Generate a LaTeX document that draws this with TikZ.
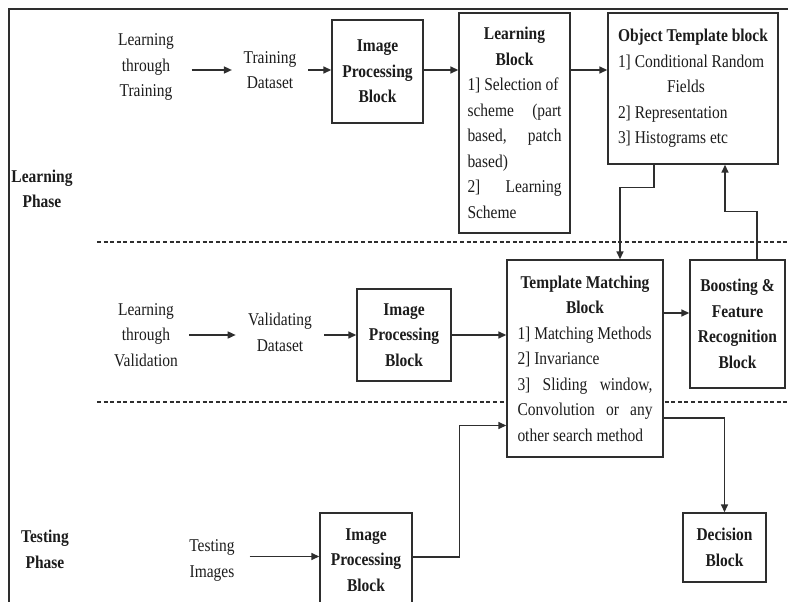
\documentclass[tikz,border=0pt]{standalone}
\usepackage{fontspec}
\setmainfont{Liberation Serif}[FakeStretch=0.86]
\usetikzlibrary{arrows.meta}
\definecolor{ink}{HTML}{1C1C1C}
\definecolor{edge}{HTML}{2E2E2E}
% one line of a block's text, set in a box of the full block width
\newcommand\tline[2][l]{\makebox[\linewidth][#1]{#2}\\}
\newcommand\blkpar{\spaceskip=0pt\xspaceskip=0pt\baselineskip=25.5pt\parindent=0pt\relax}
\begin{document}
\begin{tikzpicture}[x=1pt,y=-1pt,
  every node/.style={inner sep=0pt, font=\fontsize{18}{25.5}\selectfont, text=ink},
  lbl/.style={align=center},
  phase/.style={align=center, font=\fontsize{18}{25.5}\selectfont\bfseries},
  blk/.style={draw=edge, line width=1.4pt, fill=white, align=center,
    font=\fontsize{18}{25.5}\selectfont\bfseries},
  listblk/.style={draw=edge, line width=1.4pt, fill=white},
  arr/.style={draw=edge, line width=1.5pt, -{Triangle[length=8pt,width=7pt]}},
  sep/.style={draw=edge, line width=1.1pt, dash pattern=on 4pt off 2.6pt},
]
\useasboundingbox (0,0) rectangle (788,602);

% outer frame (left and top edges)
\draw[edge, line width=1.5pt] (9,602) -- (9,9) -- (788,9);

% phase separators
\draw[sep] (97,242) -- (788,242);
\draw[sep] (97,402) -- (788,402);

% phase titles
\node[phase] (lp) at (42,189) {Learning\\Phase};
\node[phase] (tp) at (45,549.5) {Testing\\Phase};

% training row
\node[lbl] (lt) at (146,67) {Learning\\through\\Training};
\node[lbl] (td) at (270,70) {Training\\Dataset};
\node[blk, minimum width=91pt, minimum height=103pt] (ip1) at (377.5,71.5) {Image\\Processing\\Block};
\node[listblk, minimum width=111pt, minimum height=220pt] (lb) at (514.5,123)
  {\parbox{94pt}{\blkpar
   \tline[c]{\textbf{Learning}}
   \tline[c]{\textbf{Block}}
   \tline{1] Selection of}
   \tline[s]{scheme (part}
   \tline[s]{based, patch}
   \tline{based)}
   \tline[s]{2] Learning}
   \makebox[\linewidth][l]{Scheme}}};
\node[listblk, minimum width=170pt, minimum height=151pt] (ot) at (693,88.5)
  {\parbox{150pt}{\blkpar
   \tline{\textbf{Object Template block}}
   \tline{1] Conditional Random}
   \tline{\hspace*{49pt}Fields}
   \tline{2] Representation}
   \makebox[\linewidth][l]{3] Histograms etc}}};

% validation row
\node[lbl] (lv) at (146,335) {Learning\\through\\Validation};
\node[lbl] (vd) at (280,332.5) {Validating\\Dataset};
\node[blk, minimum width=94pt, minimum height=92pt] (ip2) at (404,335) {Image\\Processing\\Block};
\node[listblk, minimum width=156pt, minimum height=197pt] (tm) at (585,358.5)
  {\parbox{135pt}{\blkpar
   \tline[c]{\textbf{Template Matching}}
   \tline[c]{\textbf{Block}}
   \tline{1] Matching Methods}
   \tline{2] Invariance}
   \tline[s]{3] Sliding window,}
   \tline[s]{Convolution or any}
   \makebox[\linewidth][l]{other search method}}};
\node[blk, minimum width=95pt, minimum height=128pt] (bf) at (737.5,324) {Boosting \&\\Feature\\Recognition\\Block};

% testing row
\node[lbl] (ti) at (212,560.5) {Testing\\Images};
\node[blk, minimum width=92pt, minimum height=94pt] (ip3) at (366,560) {Image\\Processing\\Block};
\node[blk, minimum width=83pt, minimum height=69pt] (db) at (724.5,547.5) {Decision\\Block};

% connectors
\draw[arr, shorten <=17.5pt, shorten >=11.5pt] (lt.east |- td.west) -- (td.west);
\draw[arr, shorten <=11.5pt] (td.east) -- (td.east -| ip1.west);
\draw[arr] (ip1.east |- td.east) -- (lb.west |- td.east);
\draw[arr] (lb.east |- td.east) -- (ot.west |- td.east);
\draw[arr] ([xshift=-39pt]ot.south) -- ++(0,23) -| ([xshift=35pt]tm.north);
\draw[arr] ([xshift=19.5pt]bf.north) -- ++(0,-48) -| ([xshift=32pt]ot.south);

\draw[arr, shorten <=11.3pt, shorten >=12.3pt] (lv.east) -- (lv.east -| vd.west);
\draw[arr, shorten <=12.3pt] (vd.east |- ip2.west) -- (ip2.west);
\draw[arr] (ip2.east) -- (ip2.east -| tm.west);
\draw[arr] ([yshift=11pt]bf.west -| tm.east) -- ([yshift=11pt]bf.west);
\draw[arr] ([yshift=-59.5pt]tm.east) -| (db.north);

\draw[arr, shorten <=14.8pt] ([yshift=4pt]ti.east) -- ([yshift=4pt]ti.east -| ip3.west);
\draw[arr] ([yshift=3pt]ip3.east) -- ++(47,0) |- ([yshift=-67pt]tm.west);
\end{tikzpicture}
\end{document}
